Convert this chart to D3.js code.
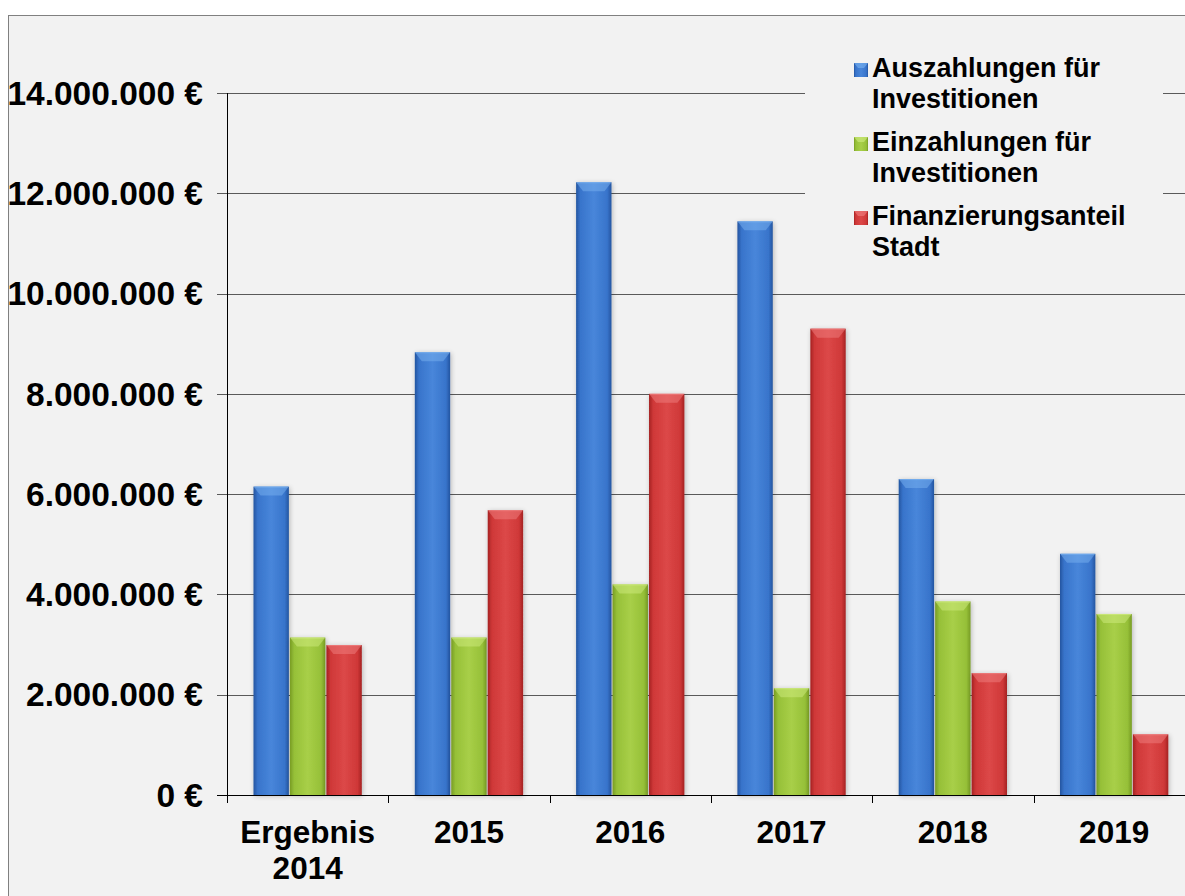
<!DOCTYPE html>
<html><head><meta charset="utf-8">
<script src="https://cdn.jsdelivr.net/npm/d3@7"></script>
<style>html,body{margin:0;padding:0;background:#fff;} svg{display:block;}</style>
</head><body><svg id="c" width="1185" height="896"></svg>
<script>
// ---- data ----
const categories = ["Ergebnis\n2014", "2015", "2016", "2017", "2018", "2019"];
const seriesNames = ["Auszahlungen für\nInvestitionen", "Einzahlungen für\nInvestitionen", "Finanzierungsanteil\nStadt"];
const auszahlungen = [6150000, 8830000, 12220000, 11440000, 6300000, 4810000];
const einzahlungen = [3140000, 3140000, 4200000, 2130000, 3860000, 3610000];
const finanzierung = [2990000, 5680000, 8000000, 9300000, 2430000, 1210000];
const yTicks = [0, 2000000, 4000000, 6000000, 8000000, 10000000, 12000000, 14000000];

const seriesValues = [auszahlungen, einzahlungen, finanzierung];
const colors = [
  {edge: "#2455a0", main: "#3874cb", light: "#4886da", bevel: "#7ab2f0"},
  {edge: "#789c24", main: "#96c038", light: "#a8cf48", bevel: "#d0ec80"},
  {edge: "#a52222", main: "#cf3838", light: "#dc4848", bevel: "#f08080"}
];

const svg = d3.select("#c");
const W = 1185, H = 896;
svg.append("rect").attr("width", W).attr("height", H).attr("fill", "#fff");
svg.append("rect").attr("x", 8.5).attr("y", 15.5).attr("width", W + 20).attr("height", H + 20)
  .attr("fill", "#f2f2f2").attr("stroke", "#808080").attr("stroke-width", 1);

const defs = svg.append("defs");
colors.forEach((c, i) => {
  const g = defs.append("linearGradient").attr("id", "g" + i).attr("x1", "0").attr("x2", "1").attr("y1", "0").attr("y2", "0");
  [[0, c.edge], [0.12, c.main], [0.5, c.light], [0.88, c.main], [1, c.edge]].forEach(s =>
    g.append("stop").attr("offset", s[0]).attr("stop-color", s[1]));
});
const f = defs.append("filter").attr("id", "sh").attr("x", "-30%").attr("y", "-10%").attr("width", "160%").attr("height", "120%");
f.append("feGaussianBlur").attr("in", "SourceAlpha").attr("stdDeviation", 2.5).attr("result", "b");
f.append("feOffset").attr("in", "b").attr("dx", 1).attr("dy", 1).attr("result", "o");
f.append("feComponentTransfer").attr("in", "o").attr("result", "o2")
  .append("feFuncA").attr("type", "linear").attr("slope", 0.25);
const fm = f.append("feMerge");
fm.append("feMergeNode").attr("in", "o2");
fm.append("feMergeNode").attr("in", "SourceGraphic");

const x0 = d3.scaleBand().domain(categories).range([227, 227 + 6 * 161.3]).padding(0);
const x1 = d3.scaleBand().domain(d3.range(3)).range([26.5, 161.3 - 26.5]).paddingInner(0.03);
const y = d3.scaleLinear().domain([0, 14000000]).range([795, 93]);

const loc = d3.formatLocale({decimal: ",", thousands: ".", grouping: [3], currency: ["", " €"]});
const fmt = v => loc.format(",d")(v) + " €";

// gridlines
svg.append("g").selectAll("line").data(yTicks.filter(d => d > 0)).join("line")
  .attr("x1", 217).attr("x2", W).attr("y1", d => Math.round(y(d)) + 0.5).attr("y2", d => Math.round(y(d)) + 0.5)
  .attr("stroke", "#5a5a5a").attr("stroke-width", 1);

// legend background covering gridlines
svg.append("rect").attr("x", 805).attr("y", 50).attr("width", 358).attr("height", 225).attr("fill", "#f2f2f2");

// y labels
svg.append("g").selectAll("text").data(yTicks).join("text")
  .attr("x", 203).attr("y", d => y(d)).attr("dy", "0.35em").attr("text-anchor", "end")
  .attr("font-family", "Liberation Sans, Arial, sans-serif").attr("font-weight", "bold").attr("font-size", 33.5)
  .attr("fill", "#000").text(fmt);

// bars
const groups = svg.append("g").selectAll("g").data(categories).join("g")
  .attr("transform", d => `translate(${x0(d)},0)`);
groups.each(function(cat, ci) {
  const g = d3.select(this);
  d3.range(3).forEach(si => {
    const v = seriesValues[si][ci];
    const bx = x1(si), bw = x1.bandwidth(), by = y(v), bh = y(0) - y(v);
    g.append("rect").attr("x", bx).attr("y", by).attr("width", bw).attr("height", bh)
      .attr("fill", `url(#g${si})`).attr("filter", "url(#sh)");
    g.append("polygon")
      .attr("points", [[bx, by], [bx + bw, by], [bx + bw - 7, by + 9], [bx + 7, by + 9]].map(p => p.join(",")).join(" "))
      .attr("fill", colors[si].bevel).attr("opacity", 0.5);
    g.append("line").attr("x1", bx + 1).attr("x2", bx + bw - 1).attr("y1", by + 0.5).attr("y2", by + 0.5)
      .attr("stroke", colors[si].bevel).attr("opacity", 0.7);
  });
});

// axes lines
svg.append("line").attr("x1", 227.5).attr("x2", 227.5).attr("y1", 93).attr("y2", 803).attr("stroke", "#000");
svg.append("line").attr("x1", 217).attr("x2", W).attr("y1", 795.5).attr("y2", 795.5).attr("stroke", "#000");
svg.append("g").selectAll("line").data(d3.range(1, 7)).join("line")
  .attr("x1", d => Math.round(227 + d * 161.3) + 0.5).attr("x2", d => Math.round(227 + d * 161.3) + 0.5)
  .attr("y1", 795).attr("y2", 803).attr("stroke", "#000");

// x labels
const xl = svg.append("g").selectAll("text").data(categories).join("text")
  .attr("text-anchor", "middle").attr("font-family", "Liberation Sans, Arial, sans-serif")
  .attr("font-weight", "bold").attr("font-size", 31.5).attr("fill", "#000");
xl.each(function(d) {
  const t = d3.select(this);
  d.split("\n").forEach((line, i) => {
    t.append("tspan").attr("x", x0(d) + x0.bandwidth() / 2).attr("y", 843 + i * 36).text(line);
  });
});

// legend
const lg = svg.append("g");
seriesNames.forEach((name, i) => {
  const base = 77 + i * 74;
  lg.append("rect").attr("x", 854).attr("y", base - 14).attr("width", 14).attr("height", 14)
    .attr("fill", `url(#g${i})`);
  lg.append("polygon").attr("points", `854,${base-14} 868,${base-14} 864,${base-9} 858,${base-9}`)
    .attr("fill", colors[i].bevel).attr("opacity", 0.6);
  const t = lg.append("text").attr("font-family", "Liberation Sans, Arial, sans-serif")
    .attr("font-weight", "bold").attr("font-size", 27).attr("fill", "#000");
  name.split("\n").forEach((line, j) => {
    t.append("tspan").attr("x", 872).attr("y", base + j * 31).text(line);
  });
});
</script></body></html>
